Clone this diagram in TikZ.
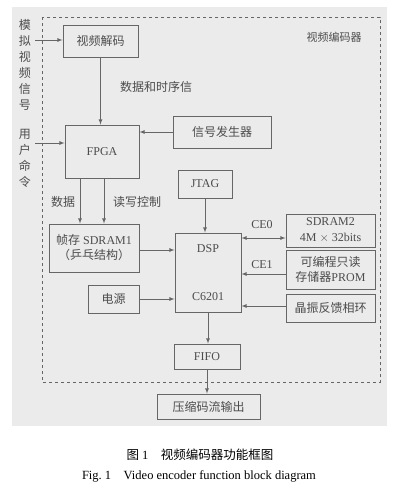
\documentclass[tikz,border=0pt]{standalone}
\usepackage{fontspec}
\setmainfont{Liberation Serif}
\newfontfamily\cjk{Noto Sans CJK SC}
\usetikzlibrary{arrows,positioning,calc}

\tikzset{
  blk/.style={draw=black!60, line width=0.9pt, text=black!70, align=center, inner sep=0pt},
  arr/.style={-latex, draw=black!60, line width=0.8pt},
  lbl/.style={text=black!70}
}

\begin{document}
\begin{tikzpicture}[x=1pt,y=-1pt,font=\fontsize{12}{13}\selectfont]
\useasboundingbox (0,0) rectangle (400,490);
\fill[black!8] (12,7) rectangle (387,426);
\draw[dashed, black!60, line width=0.8pt] (42,17) rectangle (380,382);
\node[lbl] (enc) at (334,37) {\cjk\fontsize{11}{12}\selectfont 视频编码器};

% inputs on the left
\node[lbl, align=center, font=\cjk\fontsize{12}{16}\selectfont] (vsig) at (25,65) {模\\拟\\视\\频\\信\\号};
\node[lbl, align=center, font=\cjk\fontsize{12}{16}\selectfont] (ucmd) at (25,158) {用\\户\\命\\令};
\coordinate (vin) at (35,40);
\coordinate (cin) at (35,143);

% blocks
\node[blk, minimum width=75pt, minimum height=32pt] (dec) at (100.5,41) {\cjk 视频解码};
\node[blk, minimum width=74pt, minimum height=53pt] (fpga) at (102,151.5) {FPGA};
\node[blk, minimum width=98pt, minimum height=32pt] (gen) at (222,132) {\cjk 信号发生器};
\node[blk, minimum width=54pt, minimum height=28pt] (jtag) at (205,184) {JTAG};
\node[blk, minimum width=90pt, minimum height=48pt] (sdram1) at (94,248) {{\cjk 帧存} SDRAM1\\[2pt]{\cjk （乒乓结构）}};
\node[blk, minimum width=66pt, minimum height=79pt] (dsp) at (208,272.5) {DSP\\[35pt]C6201};
\node[blk, minimum width=51pt, minimum height=28pt] (pwr) at (113.5,299) {\cjk 电源};
\node[blk, minimum width=89pt, minimum height=33pt] (sdram2) at (330.5,230.5) {SDRAM2\\[3pt]4M $\times$ 32bits};
\node[blk, minimum width=89pt, minimum height=39pt] (prom) at (330.5,269.5) {{\cjk 可编程只读}\\[2pt]{\cjk 存储器}PROM};
\node[blk, minimum width=89pt, minimum height=28pt] (pll) at (330.5,308) {\cjk 晶振反馈相环};
\node[blk, minimum width=66pt, minimum height=25pt] (fifo) at (207,356.5) {FIFO};
\node[blk, minimum width=103pt, minimum height=25pt] (out) at (208.5,406.5) {\cjk 压缩码流输出};

% labels
\node[lbl] (l1) at (156,87) {\cjk 数据和时序信};
\node[lbl] (l2) at (63,202) {\cjk 数据};
\node[lbl] (l3) at (137,202) {\cjk 读写控制};
\node[lbl] (l4) at (262,225) {CE0};
\node[lbl] (l5) at (262,265) {CE1};

% connections
\draw[arr] (vin) -- (vin -| dec.west);
\draw[arr] (cin) -- (cin -| fpga.west);
\draw[arr] (dec) -- (dec |- fpga.north);
\draw[arr] (gen.west) -- (gen.west -| fpga.east);
\draw[arr] ([xshift=-22pt]fpga.south) -- ([xshift=-22pt]fpga.south |- sdram1.north);
\draw[arr] ([xshift=2pt]fpga.south) -- ([xshift=2pt]fpga.south |- sdram1.north);
\draw[arr] (sdram1.east |- 0,250) -- (dsp.west |- 0,250);
\draw[arr] (pwr.east) -- (pwr.east -| dsp.west);
\draw[arr] (jtag) -- (jtag |- dsp.north);
\draw[arr, latex-latex] (dsp.east |- 0,238) -- (sdram2.west |- 0,238);
\draw[arr] (prom.west |- 0,274) -- (dsp.east |- 0,274);
\draw[arr] (pll.west |- 0,306) -- (dsp.east |- 0,306);
\draw[arr] (dsp) -- (dsp |- fifo.north);
\draw[arr] (fifo) -- (fifo |- out.north);

% caption
\node[font=\fontsize{12.5}{14}\selectfont] (cap1) at (200,455) {{\cjk 图}~1\quad{\cjk 视频编码器功能框图}};
\node[font=\fontsize{12.5}{14}\selectfont] (cap2) at (199,476) {Fig.~1\quad Video encoder function block diagram};
\end{tikzpicture}
\end{document}
